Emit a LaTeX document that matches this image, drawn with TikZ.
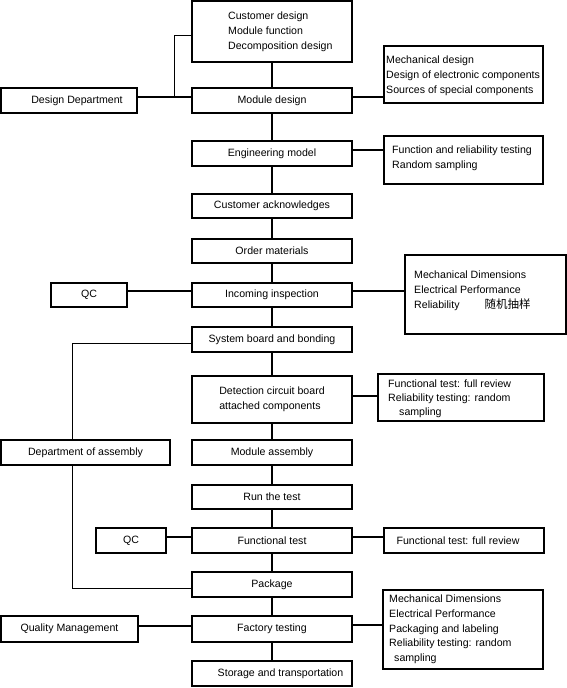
\documentclass[tikz,border=0pt]{standalone}
\usepackage{fontspec}
\setmainfont{Liberation Sans}
\newfontfamily\cjk{Noto Sans CJK SC}
\newcommand\fs{\fontsize{10.6}{14.8}\selectfont}
\tikzset{
  box/.style={draw, line width=2pt, inner sep=0pt, font=\fs},
  conn/.style={line width=2pt},
  thinl/.style={line width=1pt},
  txt/.style={align=left, inner sep=0pt, font=\fs, anchor=base west},
}
\begin{document}
\begin{tikzpicture}[x=1pt,y=-1pt]
\useasboundingbox (0,0) rectangle (567,688);
% main column
\node[box, minimum width=160pt, minimum height=61pt] (top) at (272,31.5) {};
\node[txt] (topt) at (228,49.1) {Customer design\\Module function\\Decomposition design};
\node[box, minimum width=160pt, minimum height=25pt] (md) at (272,100.5) {Module design};
\node[box, minimum width=160pt, minimum height=25pt] (em) at (272,153.5) {Engineering model};
\node[box, minimum width=160pt, minimum height=24pt] (ca) at (272,206) {Customer acknowledges};
\node[box, minimum width=160pt, minimum height=24pt] (om) at (272,251) {Order materials};
\node[box, minimum width=160pt, minimum height=24pt] (ii) at (272,295) {Incoming inspection};
\node[box, minimum width=160pt, minimum height=25pt] (sb) at (272,339.5) {System board and bonding};
\node[box, minimum width=160pt, minimum height=47pt, align=left] (dc) at (272,399.5) {Detection circuit board\\attached components};
\node[box, minimum width=160pt, minimum height=25pt] (ma) at (272,452.5) {Module assembly};
\node[box, minimum width=160pt, minimum height=24pt] (rt) at (272,497) {Run the test};
\node[box, minimum width=160pt, minimum height=25pt] (ft) at (272,540.5) {Functional test};
\node[box, minimum width=160pt, minimum height=25pt] (pk) at (272,584.5) {Package};
\node[box, minimum width=160pt, minimum height=26pt] (fy) at (272,629) {Factory testing};
\node[box, minimum width=160pt, minimum height=25pt] (st) at (272,673.5) {\hspace*{17pt}Storage and transportation};
% left column
\node[box, minimum width=136pt, minimum height=25pt] (dd) at (69,100.5) {\hspace*{16pt}Design Department};
\node[box, minimum width=76pt, minimum height=24pt] (qc1) at (89,295) {QC};
\node[box, minimum width=169pt, minimum height=25pt] (da) at (85.5,452.5) {Department of assembly};
\node[box, minimum width=70pt, minimum height=25pt] (qc2) at (131,540.5) {QC};
\node[box, minimum width=137pt, minimum height=26pt] (qm) at (69.5,629) {Quality Management};
% right column
\node[box, minimum width=159pt, minimum height=57pt] (rb1) at (463.5,74.5) {};
\node[txt] (rb1t) at (386,93.1) {Mechanical design\\Design of electronic components\\Sources of special components};
\node[box, minimum width=159pt, minimum height=48pt] (rb2) at (463.5,160) {};
\node[txt] (rb2t) at (392,168.3) {Function and reliability testing\\Random sampling};
\node[box, minimum width=161pt, minimum height=79pt] (rb3) at (485.5,294.5) {};
\node[txt] (rb3t) at (414,308.1) {Mechanical Dimensions\\Electrical Performance\\Reliability\hspace{25pt}{\cjk\fontsize{11.5}{14}\selectfont 随机抽样}};
\node[box, minimum width=166pt, minimum height=47pt] (rb4) at (461,397.5) {};
\node[txt, font=\fontsize{10.6}{14}\selectfont] (rb4t) at (388,415.5) {Functional test: full review\\Reliability testing: random\\\hspace*{11pt}sampling};
\node[box, minimum width=160pt, minimum height=25pt] (rb5) at (464,540.5) {Functional test: full review\hspace*{12pt}};
\node[box, minimum width=160pt, minimum height=79pt] (rb6) at (463,629.5) {};
\node[txt, font=\fontsize{10.6}{14.75}\selectfont] (rb6t) at (389,661.5) {Mechanical Dimensions\\Electrical Performance\\Packaging and labeling\\Reliability testing: random\\\hspace*{5pt}sampling};
% vertical spine
\draw[conn] (top) -- (md);
\foreach \a/\b in {md/em,em/ca,ca/om,om/ii,ii/sb,sb/dc,dc/ma,ma/rt,rt/ft,ft/pk,pk/fy,fy/st}
  \draw[conn] (\a) -- (\b);
% left connectors
\draw[conn] ([yshift=4pt]dd.east) -- ([yshift=4pt]dd.east -| md.west);
\coordinate (j1) at ([yshift=4pt]dd.east -| 174,0);
\draw[thinl] ([yshift=-3.5pt]top.west) -| (j1);
\draw[conn] ([yshift=4pt]qc1.east) -- ([yshift=4pt]qc1.east -| ii.west);
\draw[conn] ([yshift=4pt]qc2.east) -- ([yshift=4pt]qc2.east -| ft.west);
\draw[conn] ([yshift=3pt]qm.east) -- ([yshift=3pt]qm.east -| fy.west);
\draw[thinl] ([yshift=-4pt]sb.west) -| ([xshift=-13.5pt]da.north);
\draw[thinl] ([xshift=-13.5pt]da.south) |- ([yshift=-4pt]pk.west);
% right connectors
\draw[conn] ([yshift=4pt]md.east) -- ([yshift=4pt]md.east -| rb1.west);
\draw[conn] ([yshift=4pt]em.east) -- ([yshift=4pt]em.east -| rb2.west);
\draw[conn] ([yshift=4pt]ii.east) -- ([yshift=4pt]ii.east -| rb3.west);
\draw[conn] ([yshift=4pt]dc.east) -- ([yshift=4pt]dc.east -| rb4.west);
\draw[conn] ([yshift=4pt]ft.east) -- ([yshift=4pt]ft.east -| rb5.west);
\draw[conn] ([yshift=4pt]fy.east) -- ([yshift=4pt]fy.east -| rb6.west);
\end{tikzpicture}
\end{document}
